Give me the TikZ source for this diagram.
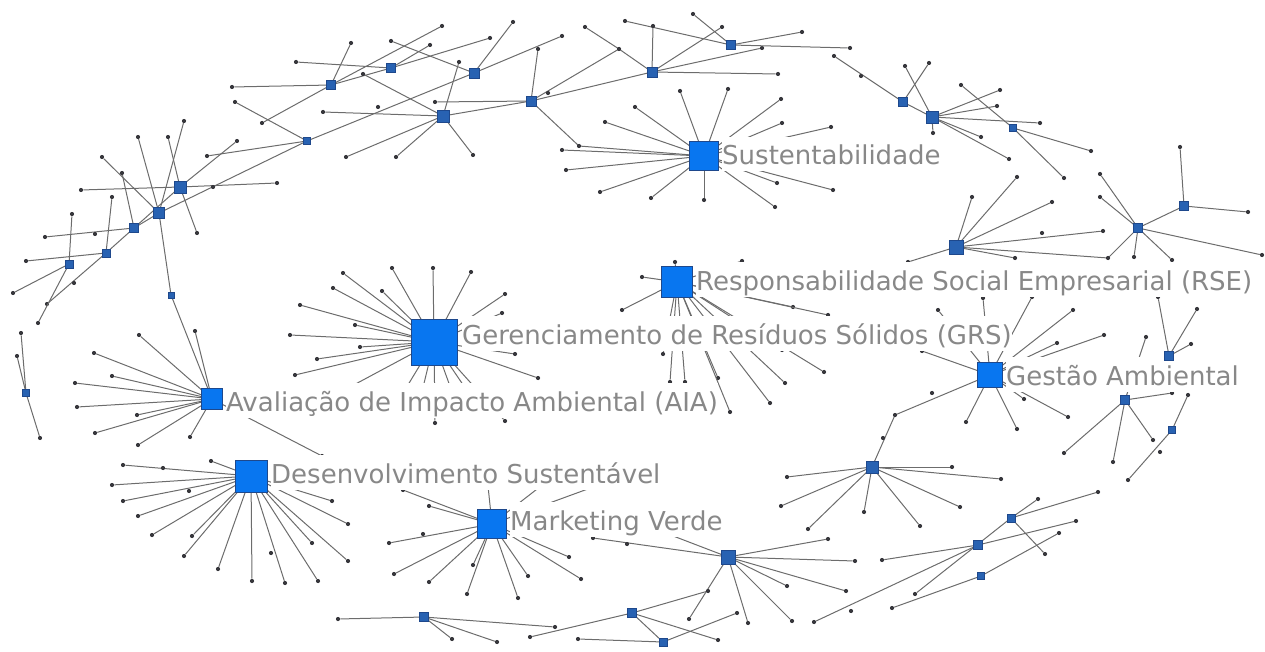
\documentclass[tikz,border=0pt]{standalone}
\usepackage{fontspec}
\setmainfont{DejaVu Sans}
\definecolor{hubfill}{RGB}{8,118,240}
\definecolor{hubdraw}{RGB}{30,72,140}
\definecolor{minifill}{RGB}{40,98,178}
\definecolor{linkgray}{RGB}{108,108,108}
\definecolor{dotgray}{RGB}{55,55,60}
\definecolor{taggray}{RGB}{136,136,136}
\def\minihubs{tl1/180/187/12,tl2/159/213/11,tl3/134/228/9,tl4/106/253/8,tl5/69/264/8,tl6/307/141/7,tl7/171/295/6,tl8/26/393/7,
  t1/331/85/9,t2/391/68/9,t3/474/73/10,t4/443/116/12,t5/531/101/10,t6/652/72/10,t7/731/45/9,
  r1/903/102/9,r2/932/117/12,r3/1013/128/7,r4/956/247/14,r5/1138/228/9,r6/1184/206/9,r7/1169/356/9,r8/1125/400/9,r9/1172/430/7,
  b1/872/467/12,b2/728/557/14,b3/632/613/9,b4/663/642/8,b5/424/617/9,b6/1011/518/8,b7/978/545/9,b8/981/576/7}
\begin{document}
\begin{tikzpicture}[x=1pt,y=-1pt,
    link/.style={draw=linkgray,line width=1pt},
    dot/.style={circle,fill=dotgray,inner sep=0pt,minimum size=4.2pt},
    hub/.style={draw=hubdraw,fill=hubfill,line width=0.8pt,inner sep=0pt,minimum size=#1},
    minihub/.style={draw=hubdraw,fill=minifill,line width=0.6pt,inner sep=0pt,minimum size=#1},
    tag/.style={anchor=base west,fill=white,inner sep=0pt,text height=28pt,text depth=6.5pt,
      text=taggray,font=\fontsize{26}{30}\selectfont}]
\useasboundingbox (0,0) rectangle (1265,652);
% main themes
\coordinate (sus) at (704,156);
\coordinate (rse) at (677,282);
\coordinate (grs) at (434,342);
\coordinate (aia) at (212,399);
\coordinate (ds) at (251,476);
\coordinate (mv) at (492,524);
\coordinate (ga) at (990,375);
\foreach \n/\x/\y/\s in \minihubs \coordinate (\n) at (\x,\y);
\coordinate (j1) at (619,49);
\coordinate (j2) at (579,146);
\coordinate (j3) at (1108,258);
\coordinate (j4) at (895,415);
\coordinate (j5) at (653,26);
% links between hubs
\foreach \a/\b in {tl1/tl3,tl2/tl3,tl3/tl4,tl2/tl6,tl2/tl7,tl7/aia,t1/t2,t3/tl6,t4/t5,t5/t6,t5/j2,j2/sus,
    t5/j1,j1/t6,t6/j5,r1/r2,r4/j3,j3/r5,r5/r6,b1/j4,j4/ga,b3/b4}
  \draw[link] (\a) -- (\b);
% leaves
\foreach \x/\y [count=\i] in {680/91,728/89,781/99,635/107,782/123,831/127,777/183,833/190,775/207,
    704/200,651/198,605/122,566/170,600/192,562/150}
  {\node[dot] (sus-\i) at (\x,\y) {}; \draw[link] (sus) -- (sus-\i);}
\foreach \x/\y [count=\i] in {642/277,675/262,742/261,622/310,663/354,670/382,685/382,718/378,770/403,
    785/383,824/372,782/350,793/307,828/315,730/412}
  {\node[dot] (rse-\i) at (\x,\y) {}; \draw[link] (rse) -- (rse-\i);}
\foreach \x/\y [count=\i] in {343/273,392/268,433/268,471/272,333/288,382/291,505/294,502/313,355/325,
    360/347,317/359,515/354,538/378,435/423,505/421,300/305,290/335,295/375,335/395,400/398,420/400,
    455/400,470/395}
  {\node[dot] (grs-\i) at (\x,\y) {}; \draw[link] (grs) -- (grs-\i);}
\foreach \x/\y [count=\i] in {139/335,195/331,94/353,112/376,75/383,77/407,137/415,95/433,138/445,
    190/437,322/456}
  {\node[dot] (aia-\i) at (\x,\y) {}; \draw[link] (aia) -- (aia-\i);}
\foreach \x/\y [count=\i] in {211/461,123/465,112/485,123/501,138/516,152/535,192/536,184/556,218/569,
    252/581,285/583,318/581,312/543,348/561,348/524,332/501}
  {\node[dot] (ds-\i) at (\x,\y) {}; \draw[link] (ds) -- (ds-\i);}
\foreach \x/\y [count=\i] in {389/543,394/574,429/582,467/594,473/565,518/598,528/576,569/557,581/579,
    403/490,429/506,488/486,541/486,596/486}
  {\node[dot] (mv-\i) at (\x,\y) {}; \draw[link] (mv) -- (mv-\i);}
\foreach \x/\y [count=\i] in {983/298,1032/297,1073/310,1057/343,1104/335,966/422,1017/429,1068/417,
    1024/399,922/351,938/310}
  {\node[dot] (ga-\i) at (\x,\y) {}; \draw[link] (ga) -- (ga-\i);}
% small clusters
\foreach \h/\x/\y [count=\i] in {tl1/81/190,tl1/277/183,tl1/237/141,tl1/168/137,tl1/197/233,
    tl2/102/157,tl2/138/137,tl2/184/121,tl3/122/173,tl3/45/237,tl4/112/197,tl4/26/261,tl4/47/304,
    tl5/72/214,tl5/13/293,tl5/38/323,tl6/207/156,tl6/235/102,tl8/21/333,tl8/17/356,tl8/40/438,
    t1/232/87,t1/262/123,t1/442/26,t1/351/43,t2/296/62,t2/490/38,t2/430/45,t3/513/22,t3/391/41,
    t3/562/36,t4/459/62,t4/363/74,t4/323/112,t4/346/157,t4/396/157,t4/473/155,t5/435/102,t5/538/49,
    t6/722/27,t6/762/48,t6/778/74,t7/625/21,t7/693/14,t7/802/32,t7/850/48,j1/585/27}
  {\node[dot] (top-\i) at (\x,\y) {}; \draw[link] (\h) -- (top-\i);}
\foreach \h/\x/\y [count=\i] in {r1/834/56,r1/929/63,r2/905/66,r2/933/133,r2/997/106,r2/1040/123,
    r2/981/137,r2/1009/159,r2/1000/90,r3/961/85,r3/1064/178,r3/1091/151,r4/1017/177,r4/972/197,
    r4/1052/202,r4/908/262,r4/1103/231,r4/1015/258,r5/1100/174,r5/1100/197,r5/1262/255,r5/1134/257,
    r5/1172/260,r6/1180/147,r6/1248/212,r7/1158/297,r7/1197/309,r7/1191/344,r8/1172/393,r8/1146/337,
    r8/1113/462,r8/1064/453,r8/1153/440,r9/1188/395,r9/1128/480}
  {\node[dot] (right-\i) at (\x,\y) {}; \draw[link] (\h) -- (right-\i);}
\foreach \h/\x/\y [count=\i] in {b1/787/477,b1/781/506,b1/808/529,b1/864/512,b1/920/526,b1/952/467,
    b1/1001/479,b1/960/507,b2/828/539,b2/855/561,b2/787/586,b2/846/591,b2/792/621,b2/748/623,
    b2/689/619,b2/593/538,b2/668/534,b3/708/591,b3/718/640,b3/530/637,b4/578/639,b4/737/613,
    b5/338/619,b5/555/627,b5/452/639,b5/497/642,b6/1098/492,b6/1038/499,b6/1045/554,b6/915/594,
    b7/1076/521,b7/882/560,b7/814/622,b8/1059/533,b8/892/608}
  {\node[dot] (low-\i) at (\x,\y) {}; \draw[link] (\h) -- (low-\i);}
% dots lying on links
\foreach \x/\y [count=\i] in {95/234,74/283,213/187,378/107,548/93,861/76,1042/233,932/393,883/438,
    163/468,189/491,271/553,423/534,627/544,851/611,1160/452}
  \node[dot] (mid-\i) at (\x,\y) {};
\foreach \n in {j1,j2,j3,j4,j5} \node[dot] (\n-dot) at (\n) {};
% labels
\node[tag] (sus-tag) at (722,165) {Sustentabilidade};
\node[tag] (rse-tag) at (696,290) {Responsabilidade Social Empresarial (RSE)};
\node[tag] (grs-tag) at (462,344) {Gerenciamento de Resíduos Sólidos (GRS)};
\node[tag] (aia-tag) at (226,411) {Avaliação de Impacto Ambiental (AIA)};
\node[tag] (ds-tag) at (271,483) {Desenvolvimento Sustentável};
\node[tag] (mv-tag) at (510,530) {Marketing Verde};
\node[tag] (ga-tag) at (1006,385) {Gestão Ambiental};
% squares
\foreach \n/\x/\y/\s in \minihubs \node[minihub=\s pt] (\n-box) at (\n) {};
\node[hub=29pt] (sus-box) at (sus) {};
\node[hub=31pt] (rse-box) at (rse) {};
\node[hub=46pt] (grs-box) at (grs) {};
\node[hub=21pt] (aia-box) at (aia) {};
\node[hub=32pt] (ds-box) at (ds) {};
\node[hub=29pt] (mv-box) at (mv) {};
\node[hub=25pt] (ga-box) at (ga) {};
\end{tikzpicture}
\end{document}
